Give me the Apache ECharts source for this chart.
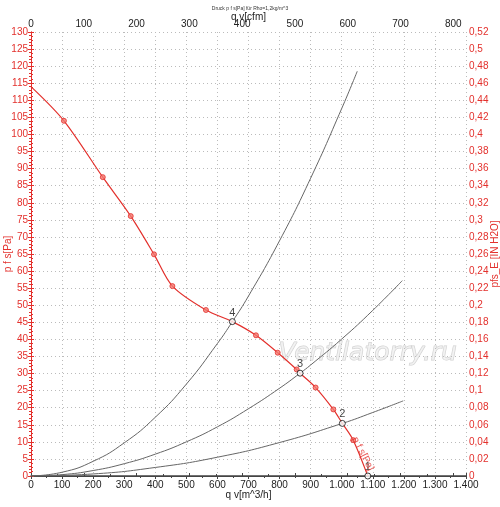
<!DOCTYPE html>
<html>
<head>
<meta charset="utf-8">
<script src="https://cdn.jsdelivr.net/npm/echarts@6/dist/echarts.min.js"></script>
<style>
  html, body { margin: 0; padding: 0; background: #fff; }
  #chart { width: 500px; height: 507px; }
</style>
</head>
<body>
<div id="chart"></div>
<script>
var dom = document.getElementById("chart");
var myChart = echarts.init(dom);

// fan curve p f s [Pa] over q v [m^3/h]
var fanCurve = [[0,114],[106,104],[231,87.5],[321,76.1],[396,64.9],[455,55.6],[563,48.6],
    [648,45.2],[724,41.2],[794,36.1],[855,31.2],[866,30.1],[916,25.9],[973,19.5],
    [1002,15.4],[1037,10.5],[1084,0]];
// measured markers on the fan curve
var fanMarkers = [[106,104],[231,87.5],[321,76.1],[396,64.9],[455,55.6],[563,48.6],
    [724,41.2],[794,36.1],[855,31.2],[916,25.9],[973,19.5],[1037,10.5]];
// system curves
var systemHigh = [[0,0],[100,1.1],[200,4.3],[300,9.7],[400,17.2],[500,26.9],[600,38.8],
    [648,45.2],[700,52.7],[800,68.9],[900,87.2],[1000,107.6],[1050,118.5]];
var systemMid = [[0,0],[100,0.4],[200,1.6],[300,3.6],[400,6.4],[500,10],[600,14.4],
    [700,19.7],[800,25.7],[866,30.1],[900,32.5],[1000,40.1],[1100,48.5],[1195,57.2]];
var systemLow = [[0,0],[200,0.6],[400,2.5],[600,5.5],[800,9.8],[1002,15.4],[1100,18.6],[1198,22]];
// operating points
var opPoints = [[1084,0,'1'],[1002,15.4,'2'],[866,30.1,'3'],[648,45.2,'4']];

var red = '#e3302c';
var dark = '#444';

function fmtThousand(v) {
    if (v >= 1000) {
        var r = String(v % 1000);
        while (r.length < 3) r = '0' + r;
        return Math.floor(v / 1000) + '.' + r;
    }
    return String(v);
}

option = {
    animation: false,
    textStyle: { fontFamily: 'Liberation Sans, Arial, sans-serif' },
    title: {
        text: 'Druck p f s[Pa] für Rho=1,2kg/m^3',
        left: 'center',
        top: 1,
        textStyle: { fontSize: 5, fontWeight: 'normal', color: '#333' }
    },
    grid: { left: 31, right: 34, top: 32, bottom: 31, containLabel: false, outerBoundsMode: 'none' },
    xAxis: [{
        type: 'value',
        position: 'bottom',
        min: 0, max: 1400, interval: 100,
        name: 'q v[m^3/h]',
        nameLocation: 'middle',
        nameGap: 14,
        nameMoveOverlap: false,
        nameTextStyle: { color: '#222', fontSize: 10 },
        axisLine: { lineStyle: { color: dark } },
        axisTick: { lineStyle: { color: dark }, length: 3 },
        minorTick: { show: true, splitNumber: 2, length: 2, lineStyle: { color: dark } },
        axisLabel: { color: '#222', fontSize: 10, margin: 4, formatter: fmtThousand },
        splitLine: { show: true, lineStyle: { color: '#bbb', type: [1, 3] } }
    }, {
        type: 'value',
        position: 'top',
        min: 0, max: 824, interval: 100,
        name: 'q v[cfm]',
        nameLocation: 'middle',
        nameGap: 10,
        nameMoveOverlap: false,
        nameTextStyle: { color: '#222', fontSize: 10 },
        axisLine: { lineStyle: { color: dark, width: 1.5 } },
        axisTick: { lineStyle: { color: dark }, length: 3 },
        minorTick: { show: true, splitNumber: 2, length: 2, lineStyle: { color: dark } },
        axisLabel: { color: '#222', fontSize: 10, margin: 3 },
        splitLine: { show: false }
    }],
    yAxis: [{
        type: 'value',
        position: 'left',
        min: 0, max: 130, interval: 5,
        name: 'p f s[Pa]',
        nameLocation: 'middle',
        nameRotate: 90,
        nameGap: 18,
        nameMoveOverlap: false,
        nameTextStyle: { color: red, fontSize: 10 },
        axisLine: { lineStyle: { color: red } },
        axisTick: { lineStyle: { color: red }, length: 3 },
        minorTick: { show: true, splitNumber: 5, length: 2, lineStyle: { color: red } },
        axisLabel: { color: red, fontSize: 10, margin: 3 },
        splitLine: { show: true, lineStyle: { color: '#bbb', type: [1, 3] } }
    }, {
        type: 'value',
        position: 'right',
        min: 0, max: 0.52, interval: 0.02,
        name: 'pfs_E [IN H2O]',
        nameLocation: 'middle',
        nameRotate: 90,
        nameGap: 24,
        nameMoveOverlap: false,
        nameTextStyle: { color: red, fontSize: 10 },
        axisLine: { lineStyle: { color: red } },
        axisTick: { lineStyle: { color: red }, length: 3 },
        minorTick: { show: true, splitNumber: 4, length: 2, lineStyle: { color: red } },
        axisLabel: {
            color: red, fontSize: 10, margin: 3,
            formatter: function (v) { return String(+v.toFixed(2)).replace('.', ','); }
        },
        splitLine: { show: false }
    }],
    graphic: [{
        type: 'text',
        left: 278,
        top: 340,
        z: 0,
        style: {
            text: 'Ventilatorry.ru',
            font: 'italic 25px "DejaVu Sans", sans-serif',
            fill: 'rgba(240,240,240,0.7)',
            stroke: 'rgba(175,175,175,0.6)',
            lineWidth: 1
        }
    }],
    series: [{
        name: 'system high',
        type: 'line',
        data: systemHigh,
        smooth: true,
        showSymbol: false,
        lineStyle: { color: '#666', width: 1 },
        z: 2
    }, {
        name: 'system mid',
        type: 'line',
        data: systemMid,
        smooth: true,
        showSymbol: false,
        lineStyle: { color: '#666', width: 1 },
        z: 2
    }, {
        name: 'system low',
        type: 'line',
        data: systemLow,
        smooth: true,
        showSymbol: false,
        lineStyle: { color: '#666', width: 1 },
        z: 2
    }, {
        name: 'p f s',
        type: 'line',
        data: fanCurve,
        smooth: 0.3,
        showSymbol: false,
        lineStyle: { color: red, width: 1.2 },
        z: 3
    }, {
        name: 'markers',
        type: 'scatter',
        data: fanMarkers,
        symbol: 'circle',
        symbolSize: 5,
        itemStyle: { color: '#f27a72', borderColor: red, borderWidth: 1 },
        z: 4
    }, {
        name: 'points',
        type: 'scatter',
        data: opPoints,
        symbol: 'circle',
        symbolSize: 6,
        itemStyle: { color: '#fff', borderColor: '#111', borderWidth: 1 },
        label: {
            show: true,
            position: 'top',
            distance: 0,
            color: '#111',
            fontSize: 11,
            formatter: function (p) { return p.data[2]; }
        },
        z: 5
    }, {
        name: 'curve label',
        type: 'scatter',
        data: [[1068, 6.5]],
        symbolSize: 0,
        silent: true,
        label: {
            show: true,
            position: 'inside',
            rotate: -63,
            color: red,
            fontSize: 10,
            formatter: 'p f s[Pa]'
        },
        z: 5
    }]
};

if (option && typeof option === "object") {
    myChart.setOption(option, true);
}
</script>
</body>
</html>
